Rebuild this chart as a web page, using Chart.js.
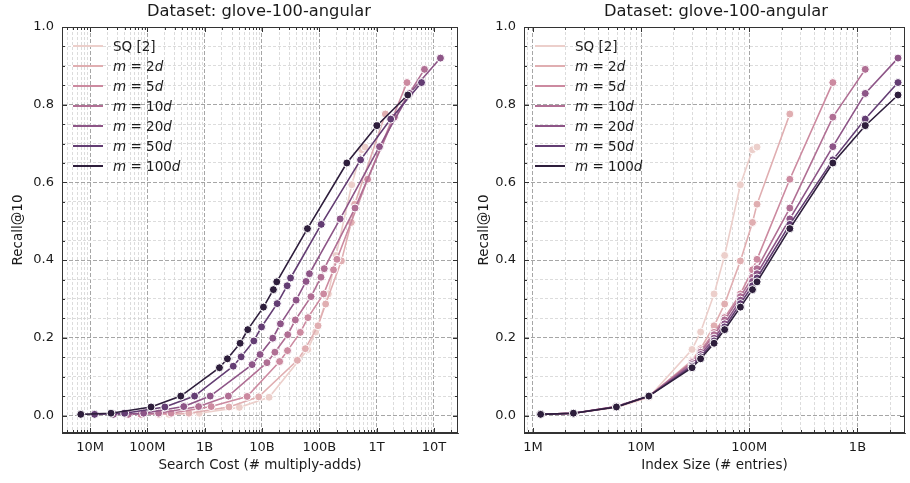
<!DOCTYPE html>
<html lang="en">
<head>
  <meta charset="UTF-8">
  <title>Dataset: glove-100-angular</title>
  <script src="https://cdn.jsdelivr.net/npm/chart.js"></script>
  <style>
    body {
      margin: 0;
      background: #fff;
      font-family: 'DejaVu Sans', sans-serif;
      color: #1a1a1a;
      overflow: hidden;
    }
    #wrap {
      position: relative;
      width: 910px;
      height: 483px;
    }
    canvas {
      position: absolute;
      top: 0;
    }
    #left { left: 0; }
    #right { left: 470px; }
    .title {
      position: absolute;
      top: 1px;
      font-size: 16.3px;
      transform: translateX(-50%);
      white-space: nowrap;
    }
    .legend {
      position: absolute;
      top: 36px;
      font-size: 13.5px;
    }
    .legend .row {
      height: 20px;
      display: flex;
      align-items: center;
    }
    .legend .sw {
      display: inline-block;
      width: 30px;
      height: 2px;
      margin-right: 10px;
    }
  </style>
</head>
<body>
  <div id="wrap">
    <canvas id="left" width="470" height="483"></canvas>
    <canvas id="right" width="440" height="483"></canvas>
    <div class="title" style="left:259px">Dataset: glove-100-angular</div>
    <div class="title" style="left:716px">Dataset: glove-100-angular</div>
    <div class="legend" id="legLeft" style="left:73px"></div>
    <div class="legend" id="legRight" style="left:535px"></div>
  </div>
  <script>
    // series, lightest to darkest
    const SERIES_NAMES = ['SQ [2]', 'm = 2d', 'm = 5d', 'm = 10d', 'm = 20d', 'm = 50d', 'm = 100d'];
    const LEGEND_HTML = ['SQ [2]', '<i>m</i> = 2<i>d</i>', '<i>m</i> = 5<i>d</i>', '<i>m</i> = 10<i>d</i>',
                         '<i>m</i> = 20<i>d</i>', '<i>m</i> = 50<i>d</i>', '<i>m</i> = 100<i>d</i>'];
    const COLORS = ['#eccfcb', '#e0aeb1', '#cc8aa0', '#b06f94', '#8d5587', '#633d73', '#2e1e3c'];

    // index size (# entries), shared x positions of the right panel
    const INDEX_SIZE = [1.18e6, 2.37e6, 5.92e6, 1.18e7, 2.96e7, 3.55e7, 4.73e7, 5.92e7,
                        8.28e7, 1.07e8, 1.18e8, 2.37e8, 5.92e8, 1.18e9, 2.37e9];

    // recall@10
    const R_SQ   = [0.003, 0.006, 0.021, 0.047, 0.170, 0.215, 0.313, 0.412, 0.594, 0.684, 0.691];
    const R_2D   = [0.003, 0.006, 0.022, 0.048, 0.142, 0.172, 0.231, 0.287, 0.398, 0.497, 0.544, 0.776];
    const R_5D   = [0.003, 0.006, 0.023, 0.049, 0.139, 0.167, 0.214, 0.252, 0.313, 0.375, 0.402, 0.608, 0.857];
    const R_10D  = [0.003, 0.006, 0.023, 0.050, 0.136, 0.163, 0.208, 0.246, 0.306, 0.356, 0.378, 0.534, 0.768, 0.891];
    const R_20D  = [0.003, 0.006, 0.023, 0.050, 0.131, 0.157, 0.199, 0.236, 0.297, 0.345, 0.365, 0.506, 0.692, 0.829, 0.920];
    const R_50D  = [0.003, 0.006, 0.022, 0.050, 0.127, 0.151, 0.192, 0.228, 0.288, 0.334, 0.354, 0.492, 0.658, 0.763, 0.857];
    const R_100D = [0.003, 0.006, 0.022, 0.050, 0.123, 0.146, 0.186, 0.221, 0.279, 0.324, 0.344, 0.481, 0.650, 0.746, 0.825];

    // search cost (# multiply-adds), left panel
    const C_SQ   = [2.39e8, 8.05e8, 4.03e9, 1.33e10, 6.28e10, 8.64e10, 1.44e11, 1.96e11, 3.68e11, 5.48e11, 6.28e11];
    const C_2D   = [1.58e8, 5.31e8, 2.66e9, 8.77e9, 4.14e10, 5.70e10, 9.50e10, 1.29e11, 2.43e11, 3.62e11, 4.14e11, 1.42e12];
    const C_5D   = [7.73e7, 2.60e8, 1.30e9, 5.50e9, 2.03e10, 2.79e10, 4.66e10, 6.34e10, 1.19e11, 1.77e11, 2.03e11, 6.97e11, 3.39e12];
    const C_10D  = [4.66e7, 1.57e8, 7.84e8, 2.59e9, 1.22e10, 1.68e10, 2.81e10, 3.82e10, 7.17e10, 1.07e11, 1.22e11, 4.20e11, 2.04e12, 6.83e12];
    const C_20D  = [2.56e7, 8.62e7, 4.31e8, 1.25e9, 6.72e9, 9.25e9, 1.54e10, 2.10e10, 3.94e10, 5.87e10, 6.72e10, 2.31e11, 1.12e12, 3.75e12, 1.30e13];
    const C_50D  = [1.20e7, 4.03e7, 2.02e8, 6.66e8, 3.15e9, 4.33e9, 7.21e9, 9.82e9, 1.84e10, 2.75e10, 3.15e10, 1.08e11, 5.25e11, 1.76e12, 6.08e12];
    const C_100D = [6.89e6, 2.32e7, 1.16e8, 3.83e8, 1.81e9, 2.49e9, 4.15e9, 5.65e9, 1.06e10, 1.58e10, 1.81e10, 6.21e10, 3.02e11, 1.01e12, 3.50e12];

    const RECALLS = [R_SQ, R_2D, R_5D, R_10D, R_20D, R_50D, R_100D];
    const COSTS = [C_SQ, C_2D, C_5D, C_10D, C_20D, C_50D, C_100D];

    // tick labels
    const Y_MAJOR = [0, 0.2, 0.4, 0.6, 0.8, 1.0];
    const Y_LABELS = ['0.0', '0.2', '0.4', '0.6', '0.8', '1.0'];
    const COST_TICKS = [1e7, 1e8, 1e9, 1e10, 1e11, 1e12, 1e13];
    const COST_LABELS = ['10M', '100M', '1B', '10B', '100B', '1T', '10T'];
    const SIZE_TICKS = [1e6, 1e7, 1e8, 1e9];
    const SIZE_LABELS = ['1M', '10M', '100M', '1B'];

    const FONT = 'DejaVu Sans';
    const TEXT = '#1a1a1a';
    const FRAME = '#333';

    // legends
    ['legLeft', 'legRight'].forEach(id => {
      const el = document.getElementById(id);
      LEGEND_HTML.forEach((html, i) => {
        const row = document.createElement('div');
        row.className = 'row';
        row.innerHTML = `<span class="sw" style="background:${COLORS[i]}"></span><span>${html}</span>`;
        el.appendChild(row);
      });
    });

    // matplotlib-ish frame with inward ticks on all four sides
    const frameTicks = {
      id: 'frameTicks',
      afterDraw(chart) {
        const { ctx, chartArea: a, scales: { x, y } } = chart;
        ctx.save();
        ctx.strokeStyle = FRAME;
        ctx.lineWidth = 1;
        ctx.strokeRect(a.left + 0.5, a.top + 0.5, a.right - a.left - 1, a.bottom - a.top - 1);
        ctx.beginPath();
        x.ticks.forEach(t => {
          const px = Math.round(x.getPixelForValue(t.value)) + 0.5;
          const len = t.major ? 5 : 3;
          ctx.moveTo(px, a.bottom); ctx.lineTo(px, a.bottom - len);
          ctx.moveTo(px, a.top); ctx.lineTo(px, a.top + len);
        });
        y.ticks.forEach(t => {
          const py = Math.round(y.getPixelForValue(t.value)) + 0.5;
          const len = t.major ? 5 : 3;
          ctx.moveTo(a.left, py); ctx.lineTo(a.left + len, py);
          ctx.moveTo(a.right, py); ctx.lineTo(a.right - len, py);
        });
        ctx.stroke();
        ctx.restore();
      }
    };

    function logTicks(scale) {
      const lo = Math.floor(Math.log10(scale.min));
      const hi = Math.ceil(Math.log10(scale.max));
      const out = [];
      for (let e = lo; e <= hi; e++) {
        for (let m = 1; m < 10; m++) {
          const v = m * Math.pow(10, e);
          if (v >= scale.min && v <= scale.max) out.push({ value: v, major: m === 1 });
        }
      }
      scale.ticks = out;
    }

    const gridColor = c => (c.tick && c.tick.major) ? '#8f8f8f' : '#d3d3d3';
    const gridDash = c => (c.tick && c.tick.major) ? [4, 2] : [3, 2];

    function makeChart(id, xData, xMin, xMax, tickVals, tickLabels, xTitle, yWidth, yTitlePad, padRight) {
      const datasets = SERIES_NAMES.map((name, i) => ({
        label: name,
        data: RECALLS[i].map((r, j) => ({ x: xData[i][j], y: r })),
        showLine: true,
        borderColor: COLORS[i],
        backgroundColor: COLORS[i],
        pointBackgroundColor: COLORS[i],
        pointBorderColor: '#fff',
        pointBorderWidth: 1,
        pointRadius: 4,
        borderWidth: 1.6,
        order: SERIES_NAMES.length - i
      }));

      return new Chart(document.getElementById(id), {
        type: 'scatter',
        data: { datasets },
        options: {
          responsive: false,
          animation: false,
          events: [],
          layout: { padding: { top: 27, right: padRight, bottom: 0, left: 0 } },
          plugins: { legend: { display: false }, tooltip: { enabled: false }, title: { display: false } },
          scales: {
            x: {
              type: 'logarithmic',
              min: xMin,
              max: xMax,
              bounds: 'data',
              afterBuildTicks: logTicks,
              afterFit: s => { s.height = 50; },
              ticks: {
                autoSkip: false,
                maxRotation: 0,
                padding: 7,
                color: TEXT,
                font: { family: FONT, size: 13 },
                callback: v => {
                  const k = tickVals.findIndex(t => Math.abs(v / t - 1) < 1e-6);
                  return k >= 0 ? tickLabels[k] : '';
                }
              },
              grid: { drawTicks: false, color: gridColor, lineWidth: 0.8 },
              border: { color: FRAME, width: 1, dash: gridDash },
              title: {
                display: true,
                text: xTitle,
                color: TEXT,
                font: { family: FONT, size: 13.5 },
                padding: { top: 0, bottom: 9 }
              }
            },
            y: {
              min: -0.045,
              max: 1.0,
              bounds: 'data',
              afterBuildTicks: s => {
                const t = [];
                for (let i = 0; i <= 20; i++) t.push({ value: i * 0.05, major: i % 4 === 0 });
                s.ticks = t;
              },
              afterFit: s => { s.width = yWidth; },
              ticks: {
                padding: 8,
                color: TEXT,
                font: { family: FONT, size: 13 },
                callback: v => {
                  const k = Y_MAJOR.findIndex(t => Math.abs(t - v) < 1e-6);
                  return k >= 0 ? Y_LABELS[k] : '';
                }
              },
              grid: { drawTicks: false, color: gridColor, lineWidth: 0.8 },
              border: { color: FRAME, width: 1, dash: gridDash },
              title: {
                display: true,
                text: 'Recall@10',
                color: TEXT,
                font: { family: FONT, size: 13.5 },
                padding: { top: yTitlePad, bottom: 0 }
              }
            }
          }
        },
        plugins: [frameTicks]
      });
    }

    makeChart('left', COSTS, 3.24e6, 2.63e13, COST_TICKS, COST_LABELS,
              'Search Cost (# multiply-adds)', 62, 10, 12);
    makeChart('right', COSTS.map((c, i) => INDEX_SIZE.slice(0, RECALLS[i].length)), 8.28e5, 2.75e9,
              SIZE_TICKS, SIZE_LABELS, 'Index Size (# entries)', 54, 6, 1);
  </script>
</body>
</html>
